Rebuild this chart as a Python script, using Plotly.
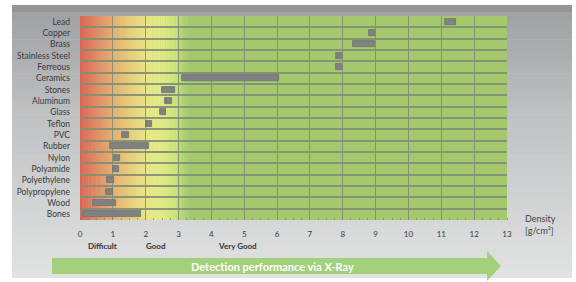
import numpy as np
import plotly.graph_objects as go

# ---- data (top to bottom) ----
materials = ["Lead", "Copper", "Brass", "Stainless Steel", "Ferreous", "Ceramics",
             "Stones", "Aluminum", "Glass", "Teflon", "PVC", "Rubber", "Nylon",
             "Polyamide", "Polyethylene", "Polypropylene", "Wood", "Bones"]
density_min = [11.1, 8.8, 8.3, 7.8, 7.8, 3.1, 2.5, 2.6, 2.45, 2.0, 1.28, 0.91, 1.03,
               0.99, 0.81, 0.79, 0.4, 0.08]
density_max = [11.45, 8.97, 8.97, 7.97, 7.97, 6.05, 2.89, 2.79, 2.61, 2.18, 1.48, 2.1,
               1.22, 1.19, 1.04, 0.99, 1.09, 1.87]
x_ticks = list(range(0, 14))
zone_labels = ["Difficult", "Good", "Very Good"]
zone_pos = [0.7, 2.31, 4.8]

n = len(materials)
ypos = list(range(n))  # 0 = top (axis reversed)

# ---- geometry helpers (pixel -> paper) ----
W, H = 576, 282
L, R, T, B = 80, 507, 16, 220
PW, PH = R - L, B - T
def px(x):
    return (x - L) / PW
def py(y):
    return (B - y) / PH

def lerp(c1, c2, t):
    return tuple(c1[i] + (c2[i] - c1[i]) * t for i in range(3))

shapes = []
# grey panel gradient (vertical)
gstops = [(5, (140, 142, 145)), (16, (160, 162, 165)), (110, (190, 192, 194)), (278, (226, 227, 227))]
ns = 40
for k in range(ns):
    y0 = 5 + (278 - 5) * k / ns
    y1 = 5 + (278 - 5) * (k + 1) / ns + 0.6
    ym = (y0 + y1) / 2
    for j in range(len(gstops) - 1):
        if gstops[j][0] <= ym <= gstops[j + 1][0]:
            t = (ym - gstops[j][0]) / (gstops[j + 1][0] - gstops[j][0])
            c = lerp(gstops[j][1], gstops[j + 1][1], t)
            break
    shapes.append(dict(type="rect", xref="paper", yref="paper", x0=px(12), x1=px(572),
                       y0=py(min(y1, 278)), y1=py(y0), layer="below", line=dict(width=0),
                       fillcolor="rgb(%d,%d,%d)" % tuple(int(v) for v in c)))

# plot-area colour gradient (red -> yellow -> green)
cstops = [(0.0, (218, 100, 85)), (0.5, (224, 140, 100)), (1.0, (230, 175, 112)),
          (1.5, (233, 205, 122)), (2.0, (233, 230, 135)), (2.5, (225, 236, 132)),
          (2.9, (205, 228, 122)), (3.2, (170, 208, 112)), (13.0, (163, 201, 108))]
step = 0.05
xs = np.arange(0, 3.3, step)
for x0 in xs:
    xm = x0 + step / 2
    for j in range(len(cstops) - 1):
        if cstops[j][0] <= xm <= cstops[j + 1][0]:
            t = (xm - cstops[j][0]) / (cstops[j + 1][0] - cstops[j][0])
            c = lerp(cstops[j][1], cstops[j + 1][1], t)
            break
    shapes.append(dict(type="rect", xref="x", yref="paper", x0=x0, x1=x0 + step + 0.01,
                       y0=0, y1=1, layer="below", line=dict(width=0),
                       fillcolor="rgb(%d,%d,%d)" % tuple(int(v) for v in c)))
shapes.append(dict(type="rect", xref="x", yref="paper", x0=3.3, x1=13, y0=0, y1=1,
                   layer="below", line=dict(width=0), fillcolor="rgb(163,201,108)"))

# arrow
ax0, ax1, axh = 52, 487, 501
by0, by1 = 258, 274
hy0, hy1 = 251, 281
path = "M {a},{b} L {c},{b} L {c},{d} L {e},{f} L {c},{g} L {c},{h} L {a},{h} Z".format(
    a=px(ax0), b=py(by0), c=px(ax1), d=py(hy0), e=px(axh), f=py((hy0 + hy1) / 2),
    g=py(hy1), h=py(by1))
shapes.append(dict(type="path", xref="paper", yref="paper", path=path,
                   fillcolor="rgb(163,208,122)", line=dict(width=0), layer="above"))

fig = go.Figure()
fig.add_trace(go.Bar(
    y=ypos,
    x=[b - a for a, b in zip(density_min, density_max)],
    base=density_min,
    orientation="h",
    width=0.55,
    marker=dict(color="rgb(128,129,130)", line=dict(color="rgb(112,113,114)", width=0.8)),
    hoverinfo="skip",
))

annotations = []
for lab, xp in zip(zone_labels, zone_pos):
    annotations.append(dict(text="<b>%s</b>" % lab, x=xp, xref="x", y=py(246), yref="paper",
                            showarrow=False, xanchor="center", yanchor="middle",
                            font=dict(family="Lato", size=8, color="#333333")))
annotations.append(dict(text="Density<br>[g/cm³]", x=px(523), xref="paper", y=py(224.5),
                        yref="paper", showarrow=False, xanchor="left", yanchor="middle",
                        align="left", font=dict(family="Lato", size=9, color="#444444")))
annotations.append(dict(text="<b>Detection performance via X-Ray</b>", x=px(272), xref="paper",
                        y=py(266), yref="paper", showarrow=False, xanchor="center",
                        yanchor="middle", font=dict(family="Lato", size=11, color="white")))

fig.update_layout(
    width=W, height=H,
    margin=dict(l=L, r=W - R, t=T, b=H - B, pad=0),
    paper_bgcolor="white",
    plot_bgcolor="rgba(0,0,0,0)",
    showlegend=False,
    shapes=shapes,
    annotations=annotations,
    bargap=0,
    xaxis=dict(range=[0, 13], tickvals=x_ticks, ticktext=[str(v) for v in x_ticks],
               showgrid=True, gridcolor="rgba(130,142,118,0.9)", gridwidth=1.2,
               zeroline=False, showline=False, ticks="", ticklabelstandoff=8,
               tickfont=dict(family="Lato", size=8, color="#3a3a3a"),
               minor=dict(dtick=0.25, ticks="inside", ticklen=2, tickcolor="rgba(120,130,110,0.7)",
                          showgrid=False)),
    yaxis=dict(range=[n - 0.5, -0.5], tickvals=ypos, ticktext=materials, showgrid=False,
               zeroline=False, showline=False, ticks="", ticklabelstandoff=9,
               tickfont=dict(family="Lato", size=8.5, color="#3a3a3a"),
               minor=dict(tickmode="array", tickvals=[i - 0.5 for i in range(n + 1)],
                          showgrid=True, gridcolor="rgba(130,142,118,0.9)", gridwidth=1.5,
                          ticks="")),
)

fig.write_html("out.html", config={"displayModeBar": False},
               post_script="document.body.style.margin='0';document.body.style.overflow='hidden';")
